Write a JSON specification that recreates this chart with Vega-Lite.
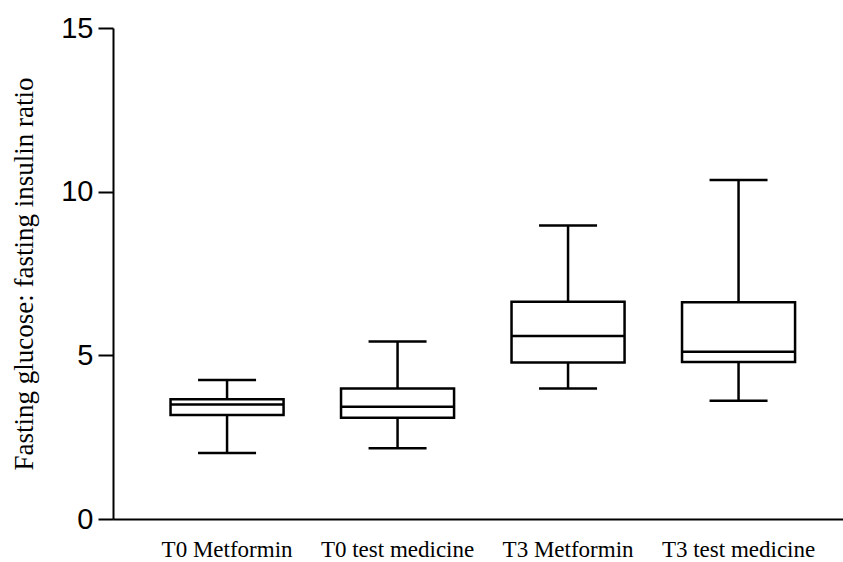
{
  "$schema": "https://vega.github.io/schema/vega-lite/v6.json",
  "autosize": "none",
  "width": 730,
  "height": 491,
  "padding": {"left": 113, "top": 28, "right": 0, "bottom": 43},
  "background": "white",
  "config": {
    "view": {"stroke": null},
    "axisX": {"labelFont": "Liberation Serif, Times New Roman, serif", "labelFontSize": 23, "labelColor": "black"},
    "axisY": {"labelFont": "Liberation Sans, Arial, sans-serif", "labelFontSize": 29, "labelColor": "black", "titleFont": "Liberation Serif, Times New Roman, serif", "titleFontSize": 27, "titleColor": "black", "titleFontWeight": "normal"}
  },
  "data": {"values": [
    {"group": "T0 Metformin", "min": 2.02, "q1": 3.18, "median": 3.5, "q3": 3.66, "max": 4.25},
    {"group": "T0 test medicine", "min": 2.16, "q1": 3.09, "median": 3.43, "q3": 3.99, "max": 5.42},
    {"group": "T3 Metformin", "min": 3.99, "q1": 4.78, "median": 5.59, "q3": 6.64, "max": 8.97},
    {"group": "T3 test medicine", "min": 3.61, "q1": 4.8, "median": 5.11, "q3": 6.62, "max": 10.36}
  ]},
  "encoding": {
    "x": {
      "field": "group", "type": "nominal", "sort": null,
      "scale": {"paddingInner": 0, "paddingOuter": 0.1408, "align": 0.6},
      "axis": {
        "title": null, "labelAngle": 0, "ticks": false, "domainColor": "black", "domainWidth": 2,
        "labelFont": "Liberation Serif, Times New Roman, serif", "labelFontSize": 23, "labelColor": "black", "labelPadding": 19
      }
    }
  },
  "layer": [
    {
      "mark": {"type": "rule", "color": "black", "strokeWidth": 2.5, "opacity": 1},
      "encoding": {
        "y": {
          "field": "min", "type": "quantitative",
          "scale": {"domain": [0, 15], "nice": false, "zero": true},
          "axis": {
            "title": "Fasting glucose: fasting insulin ratio", "values": [0, 5, 10, 15], "grid": false,
            "domainColor": "black", "domainWidth": 2, "tickColor": "black", "tickWidth": 2, "tickSize": 15,
            "labelFont": "Liberation Sans, Arial, sans-serif", "labelFontSize": 29, "labelColor": "black", "labelPadding": 5,
            "titleFont": "Liberation Serif, Times New Roman, serif", "titleFontSize": 27, "titleFontWeight": "normal", "titleColor": "black", "titlePadding": 22
          }
        },
        "y2": {"field": "max"}
      }
    },
    {
      "mark": {"type": "bar", "fill": "white", "stroke": "black", "strokeWidth": 2.5, "opacity": 1, "width": {"band": 0.663}},
      "encoding": {"y": {"field": "q1", "type": "quantitative"}, "y2": {"field": "q3"}}
    },
    {
      "mark": {"type": "tick", "color": "black", "opacity": 1, "thickness": 2.5, "size": 113},
      "encoding": {"y": {"field": "median", "type": "quantitative"}}
    },
    {
      "mark": {"type": "tick", "color": "black", "opacity": 1, "thickness": 2.5, "size": 58},
      "encoding": {"y": {"field": "min", "type": "quantitative"}}
    },
    {
      "mark": {"type": "tick", "color": "black", "opacity": 1, "thickness": 2.5, "size": 58},
      "encoding": {"y": {"field": "max", "type": "quantitative"}}
    }
  ]
}
